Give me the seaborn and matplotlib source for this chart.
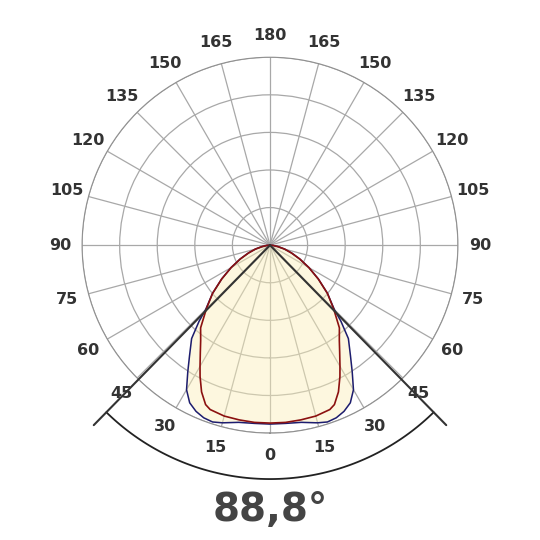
import numpy as np
import seaborn as sns
import matplotlib.pyplot as plt

sns.set_style("white")
plt.rcParams['font.family'] = ['DejaVu Sans']

# half-plane data (0..90 deg), mirrored for the other side
red_angles = [0, 5, 10, 15, 20, 22, 25, 28, 30, 33, 36, 40, 45, 50, 55, 60, 65, 70, 75, 80, 85, 90]
c0_180 = [178, 178, 177.5, 177, 175, 172, 162, 149, 140, 128, 118, 108, 90, 75, 59, 45, 33, 23, 15, 8, 3, 0]
blue_angles = [0, 5, 10, 15, 18, 21, 24, 27, 30, 33, 36, 40, 43, 45, 50, 55, 60, 65, 70, 75, 80, 85, 90]
c90_270 = [179, 179, 180, 184, 186, 185, 182, 177, 167, 151, 137, 122, 104, 91, 75, 59, 45, 33, 23, 15, 8, 3, 0]
rings = [37.6, 75.2, 112.8, 150.4, 188]
angle_ticks = list(range(0, 360, 15))
beam_angle = "88,8°"

def full(a, v):
    a = np.array(a, float)
    v = np.array(v, float)
    th = np.concatenate([-a[::-1], a[1:]])
    r = np.concatenate([v[::-1], v[1:]])
    return np.deg2rad(th), r

fig = plt.figure(figsize=(5.4, 5.4), dpi=100)
ax = fig.add_axes([0.152, 0.198, 0.696, 0.696], projection='polar')
ax.set_theta_zero_location('S')
ax.set_ylim(0, 188)
ax.set_yticks(rings)
ax.set_yticklabels([])
ax.set_xticks(np.deg2rad(angle_ticks))
ax.set_xticklabels([])
ax.grid(color='#a8a8a8', lw=0.9)
ax.spines['polar'].set_color('#909090')

tb, rb = full(blue_angles, c90_270)
tr, rr = full(red_angles, c0_180)
ax.fill(tb, rb, color='#fbefb8', alpha=0.45, zorder=2)
ax.plot(tb, rb, color='#1c1c70', lw=1.1, zorder=3)
ax.plot(tr, rr, color='#8b1010', lw=1.2, zorder=4)

# angle labels
for a in angle_ticks:
    lab = a if a <= 180 else 360 - a
    ax.text(np.deg2rad(a), 210, str(lab), ha='center', va='center',
            fontsize=11.5, fontweight='bold', color='#333333', clip_on=False)

# beam angle lines and arc
half = 44.4
for s in (-1, 1):
    ax.plot([0, np.deg2rad(s * half)], [0, 252], color='#333333', lw=1.5,
            clip_on=False, zorder=5)
arc = np.deg2rad(np.linspace(-half, half, 100))
ax.plot(arc, np.full_like(arc, 234), color='#222222', lw=1.3, clip_on=False)

fig.text(0.5, 0.055, beam_angle, ha='center', va='center', fontsize=28,
         fontweight='bold', color='#444444')
fig.savefig('out.png', dpi=100)
